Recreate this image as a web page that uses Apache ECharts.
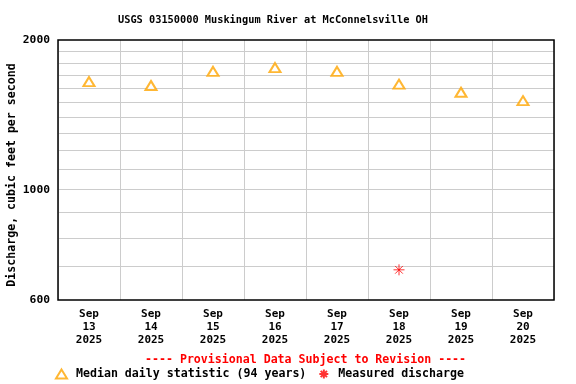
<!DOCTYPE html>
<html>
<head>
<meta charset="utf-8">
<script src="https://cdn.jsdelivr.net/npm/echarts@6/dist/echarts.min.js"></script>
<style>html,body{margin:0;padding:0;background:#fff}#c{width:576px;height:384px}</style>
</head>
<body>
<div id="c"></div>
<script>
const categories = ['Sep\n13\n2025','Sep\n14\n2025','Sep\n15\n2025','Sep\n16\n2025','Sep\n17\n2025','Sep\n18\n2025','Sep\n19\n2025','Sep\n20\n2025'];
const medianValues = [1650, 1620, 1730, 1760, 1730, 1630, 1570, 1510];
const measuredValues = [null, null, null, null, null, 690, null, null];
const yTickLabels = [600, 1000, 2000];
const yGridValues = [700, 800, 900, 1000, 1100, 1200, 1300, 1400, 1500, 1600, 1700, 1800, 1900];

const FONT = 'DejaVu Sans Mono';
const chart = echarts.init(document.getElementById('c'), null, {renderer: 'canvas'});
chart.setOption({
  animation: false,
  backgroundColor: '#fff',
  title: [
    {text: 'USGS 03150000 Muskingum River at McConnelsville OH', left: 118, top: 15, padding: 0,
     textStyle: {fontFamily: FONT, fontSize: 10.3, fontWeight: 'bold', color: '#000'}},
    {text: '---- Provisional Data Subject to Revision ----', left: 145, top: 354, padding: 0,
     textStyle: {fontFamily: FONT, fontSize: 11.6, fontWeight: 'bold', color: '#ff0000'}}
  ],
  legend: {
    left: 55, top: 368, padding: 0, itemWidth: 11, itemHeight: 9, itemGap: 12,
    textStyle: {fontFamily: FONT, fontSize: 11.6, fontWeight: 'bold', color: '#000', padding: [0,0,0,4]},
    data: ['Median daily statistic (94 years)', 'Measured discharge']
  },
  grid: {left: 58, right: 22, top: 40, bottom: 84, outerBoundsMode: 'none', containLabel: false},
  xAxis: {
    type: 'category', data: categories, boundaryGap: true,
    axisLine: {show: false}, axisTick: {show: false},
    splitLine: {show: true, interval: 0, lineStyle: {color: '#cccccc', width: 1}},
    axisLabel: {interval: 0, margin: 8, lineHeight: 13, fontFamily: FONT, fontSize: 11, fontWeight: 'bold', color: '#000'}
  },
  yAxis: {
    type: 'log', logBase: 10, min: 600, max: 2000,
    name: 'Discharge, cubic feet per second', nameLocation: 'middle', nameGap: 40, nameRotate: 90,
    nameMoveOverlap: false,
    nameTextStyle: {fontFamily: FONT, fontSize: 11.6, fontWeight: 'bold', color: '#000', padding: [0, 10, 0, 0]},
    axisLine: {show: false},
    axisTick: {show: false, customValues: yGridValues},
    axisLabel: {customValues: yTickLabels, margin: 8, formatter: v => String(Math.round(v)),
      fontFamily: FONT, fontSize: 11.3, fontWeight: 'bold', color: '#000'},
    splitLine: {show: true, lineStyle: {color: '#cccccc', width: 1}}
  },
  graphic: [{type: 'rect', z: 100, shape: {x: 58, y: 40, width: 496, height: 260},
    style: {fill: 'none', stroke: '#000', lineWidth: 1.5}}],
  series: [
    {name: 'Median daily statistic (94 years)', type: 'scatter', data: medianValues,
     symbol: 'emptyTriangle', symbolSize: [11, 9],
     itemStyle: {color: '#ffa500', borderColor: '#ffa500', borderWidth: 1}},
    {name: 'Measured discharge', type: 'scatter', data: measuredValues,
     symbol: 'path://M5 0L5 10M0 5L10 5M1.5 1.5L8.5 8.5M8.5 1.5L1.5 8.5', symbolSize: 11,
     itemStyle: {color: '#ff0000', borderColor: '#ff0000', borderWidth: 1}}
  ]
});
</script>
</body>
</html>
